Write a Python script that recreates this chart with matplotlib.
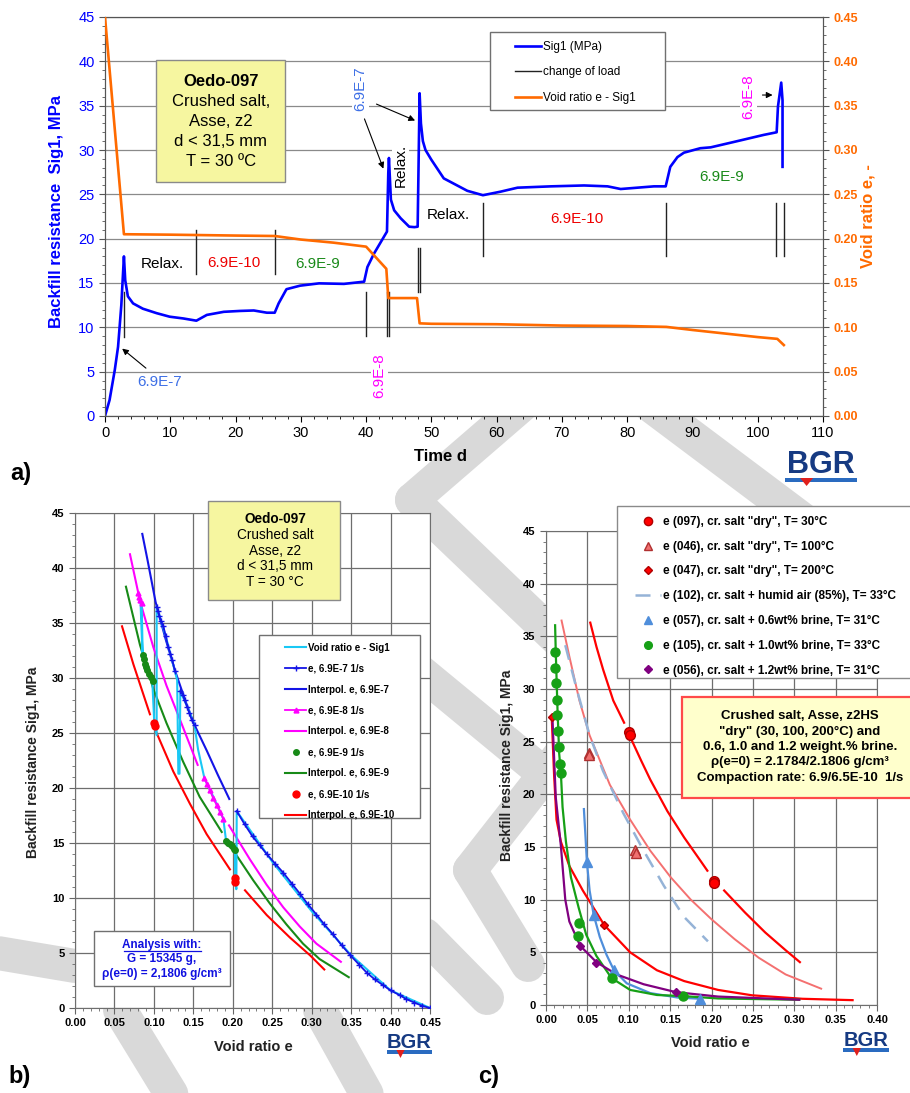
import matplotlib
matplotlib.use("Agg")
import matplotlib.pyplot as plt
from matplotlib.lines import Line2D
from matplotlib.patches import Rectangle, Polygon
from matplotlib.ticker import MultipleLocator, FormatStrFormatter

plt.rcParams['font.family'] = ['Liberation Sans', 'DejaVu Sans']

# ---------------- data: panel a (time history) ----------------
t_sig = [0, 0.7, 1.5, 2.0, 2.5, 2.9, 3.1, 3.5, 4.3, 5.8, 7.9, 9.9, 12.0, 14.0,
         15.6, 18.2, 20.7, 22.8, 24.8, 26.0, 26.6, 27.8, 29.9, 32.8, 36.6, 39.7,
         40.2, 41.2, 43.2, 43.4, 43.5, 43.8, 44.3, 45.3, 46.6, 47.4, 47.9,
         48.2, 48.4, 48.7, 49.1, 50.0, 51.9, 55.5, 57.9, 60.6, 63.2, 68.3, 73.4,
         77.0, 79.0, 84.1, 85.9, 86.6, 87.7, 88.7, 91.2, 92.8, 96.3, 100.9, 102.9,
         103.1, 103.6, 103.8, 103.8]
sig1 = [0, 1.8, 5.2, 7.8, 12.5, 18.0, 15.3, 13.5, 12.7, 12.1, 11.6, 11.2, 11.0, 10.75,
        11.4, 11.75, 11.85, 11.9, 11.65, 11.65, 12.7, 14.3, 14.7, 14.96, 14.9, 15.15,
        16.8, 18.3, 20.8, 27.4, 29.1, 24.4, 23.2, 22.3, 21.35, 21.3, 21.35,
        36.4, 33.0, 31.0, 30.0, 28.9, 26.8, 25.4, 24.9, 25.3, 25.75, 25.9, 26.0,
        25.9, 25.6, 25.9, 25.9, 28.1, 29.2, 29.7, 30.2, 30.3, 30.9, 31.7, 32.0,
        34.9, 37.6, 35.6, 28.1]

t_void = [0, 2.9, 10, 20, 26, 30, 35, 40, 43.1, 43.4, 47.8, 48.2, 50, 60, 70, 80,
          86, 90, 95, 100, 103, 104]
void_e = [0.45, 0.205, 0.2045, 0.2035, 0.203, 0.199, 0.1955, 0.191, 0.166, 0.133,
          0.133, 0.1045, 0.104, 0.1035, 0.102, 0.1015, 0.1005, 0.097, 0.093, 0.089,
          0.087, 0.080]

load_t = [2.9, 14.0, 26.0, 40.0, 43.2, 43.5, 47.9, 48.2, 57.9, 85.9, 102.8, 104.0]
load_lo = [8.9, 16.0, 16.0, 9.0, 9.0, 9.0, 14.0, 14.0, 18.0, 18.0, 18.0, 18.0]
load_hi = [14.0, 21.0, 21.0, 14.0, 14.0, 14.0, 19.0, 19.0, 24.0, 24.0, 24.0, 24.0]

# ---------------- data: panel b (void ratio vs Sig1, Oedo-097) ----------------
cyan_e = [0.45, 0.40, 0.35, 0.30, 0.25, 0.205, 0.2045, 0.203, 0.2028, 0.196, 0.1915,
          0.188, 0.176, 0.164, 0.156, 0.1515, 0.143, 0.1335, 0.1325, 0.131, 0.1295,
          0.1267, 0.115, 0.1035, 0.1035, 0.1005, 0.098, 0.092, 0.0858, 0.0845,
          0.0802, 0.083, 0.0856]
cyan_s = [0, 1.6, 4.8, 8.8, 13.3, 17.9, 10.8, 11.7, 14.4, 14.9, 15.2,
          17.2, 19.1, 20.9, 23.5, 25.7, 27.3, 28.8, 21.3, 21.3, 29.8,
          30.6, 33.8, 36.5, 24.8, 25.9, 29.7, 31.0, 32.1, 36.8,
          37.7, 37.0, 32.0]

b7_e1 = [0.45, 0.44, 0.43, 0.42, 0.412, 0.40, 0.39, 0.38, 0.37, 0.36, 0.349, 0.338,
         0.327, 0.316, 0.306, 0.295, 0.285, 0.275, 0.264, 0.254, 0.243, 0.234,
         0.225, 0.215, 0.205]
b7_s1 = [0, 0.2, 0.5, 0.8, 1.15, 1.6, 2.1, 2.6, 3.2, 3.95, 4.8, 5.7,
         6.7, 7.6, 8.5, 9.45, 10.4, 11.3, 12.3, 13.1, 14.0, 14.8,
         15.6, 16.7, 17.9]
b7_e2 = [0.1515, 0.148, 0.145, 0.142, 0.139, 0.1365, 0.1335]
b7_s2 = [25.7, 26.2, 26.8, 27.4, 28.0, 28.5, 28.8]
b7_e3 = [0.1267, 0.1234, 0.121, 0.118, 0.115, 0.112, 0.109, 0.107, 0.105, 0.1035]
b7_s3 = [30.6, 31.6, 32.2, 32.85, 33.8, 34.7, 35.2, 35.6, 36.1, 36.5]
i7_e = [0.0853, 0.092, 0.1022, 0.115, 0.1276, 0.14, 0.151, 0.167, 0.181, 0.1956]
i7_s = [43.1, 40.7, 36.9, 33.5, 30.5, 27.9, 25.8, 23.4, 21.2, 19.0]

b8_e1 = [0.164, 0.167, 0.171, 0.175, 0.1796, 0.184, 0.188]
b8_s1 = [20.9, 20.4, 19.8, 19.1, 18.45, 17.8, 17.2]
b8_e2 = [0.0802, 0.0815, 0.083, 0.0845]
b8_s2 = [37.7, 37.4, 37.1, 36.8]
i8_e1 = [0.0697, 0.0824, 0.0993, 0.116, 0.137, 0.1555]
i8_s1 = [41.25, 37.0, 32.8, 29.3, 25.5, 22.1]
i8_e2 = [0.1952, 0.2218, 0.2429, 0.264, 0.285, 0.306, 0.337]
i8_s2 = [16.6, 13.5, 11.2, 9.15, 7.4, 5.85, 4.2]

b9_e = [0.1914, 0.194, 0.1965, 0.199, 0.2015, 0.2028,
        0.0858, 0.0875, 0.0887, 0.0905, 0.0917, 0.094, 0.0962, 0.0985]
b9_s = [15.14, 15.0, 14.9, 14.7, 14.5, 14.4,
        32.1, 31.7, 31.3, 31.0, 30.7, 30.4, 30.1, 29.7]
i9_e1 = [0.0646, 0.0824, 0.0993, 0.116, 0.137, 0.158, 0.186]
i9_s1 = [38.3, 33.0, 29.0, 25.9, 22.4, 19.2, 16.0]
i9_e2 = [0.205, 0.226, 0.247, 0.268, 0.289, 0.31, 0.347]
i9_s2 = [13.85, 11.6, 9.5, 7.6, 5.85, 4.45, 2.8]

b10_e = [0.1005, 0.1012, 0.2028, 0.2028]
b10_s = [25.9, 25.6, 11.8, 11.5]
i10_e1 = [0.0596, 0.074, 0.095]
i10_s1 = [34.7, 31.25, 26.7]
i10_e2 = [0.1035, 0.1246, 0.1458, 0.1669, 0.1964]
i10_s2 = [25.0, 21.5, 18.55, 15.8, 12.6]
i10_e3 = [0.2155, 0.243, 0.2725, 0.2978, 0.316]
i10_s3 = [10.7, 8.45, 6.4, 4.8, 3.5]

# ---------------- data: panel c (comparison of tests) ----------------
p097_e = [0.1005, 0.1017, 0.203, 0.203]
p097_s = [25.9, 25.64, 11.75, 11.55]
c097_e1 = [0.0535, 0.061, 0.069, 0.0813, 0.0944]
c097_s1 = [36.3, 34.0, 31.85, 28.9, 26.8]
c097_e2 = [0.1038, 0.115, 0.126, 0.1467, 0.167, 0.1875, 0.195]
c097_s2 = [25.1, 23.2, 21.4, 18.4, 15.9, 13.6, 12.75]
c097_e3 = [0.2153, 0.2406, 0.265, 0.2896, 0.3068]
c097_s3 = [10.87, 8.77, 6.88, 5.2, 4.07]

p046_e = [0.0519, 0.0525, 0.1078, 0.1085]
p046_s = [23.96, 23.7, 14.73, 14.4]
c046_e = [0.0188, 0.0282, 0.0404, 0.0527, 0.0772, 0.1017, 0.126, 0.151, 0.175, 0.2,
          0.228, 0.257, 0.2896, 0.3325]
c046_s = [36.5, 33.1, 28.9, 25.6, 20.9, 17.6, 14.65, 12.1, 10.0, 8.14,
          6.25, 4.49, 2.9, 1.55]

p047_e = [0.0072, 0.0705]
p047_s = [27.36, 7.6]
c047_e = [0.0069, 0.0098, 0.0127, 0.018, 0.0282, 0.0445, 0.0703, 0.1017, 0.134, 0.167,
          0.208, 0.249, 0.31, 0.3705]
c047_s = [27.36, 21.8, 17.6, 15.5, 13.2, 10.87, 7.6, 5.0, 3.3, 2.27,
          1.43, 0.92, 0.59, 0.46]

c102_e = [0.0233, 0.0364, 0.0527, 0.069, 0.0935, 0.118, 0.1426, 0.167, 0.1957]
c102_s = [34.16, 30.2, 25.6, 22.2, 18.2, 14.65, 11.3, 8.35, 6.04]

p057_e = [0.0494, 0.0576, 0.0821, 0.1867]
p057_s = [13.6, 8.56, 3.3, 0.59]
c057_e = [0.0458, 0.0478, 0.0494, 0.0527, 0.0576, 0.065, 0.0731, 0.0821, 0.0976, 0.126,
          0.159, 0.1867]
c057_s = [18.6, 15.9, 13.6, 10.87, 8.56, 6.46, 4.78, 3.3, 2.06, 1.13,
          0.71, 0.59]

p105_e = [0.0109, 0.0109, 0.0121, 0.0129, 0.0137, 0.0149, 0.0157, 0.0169, 0.0177,
          0.0396, 0.0384, 0.0794, 0.166]
p105_s = [33.55, 31.97, 30.55, 29.0, 27.5, 26.05, 24.5, 22.9, 22.0,
          7.8, 6.59, 2.53, 0.85]
c105_e = [0.011, 0.0118, 0.0139, 0.0159, 0.018, 0.02, 0.0241, 0.0302, 0.0396, 0.0486,
          0.0609, 0.0792, 0.1017, 0.134, 0.165, 0.208, 0.306]
c105_s = [36.05, 33.5, 28.07, 23.9, 22.0, 18.8, 15.5, 12.1, 9.2, 6.67,
          4.66, 2.56, 1.43, 0.95, 0.85, 0.62, 0.5]

p056_e = [0.0413, 0.0609, 0.157]
p056_s = [5.62, 4.0, 1.22]
c056_e = [0.0078, 0.0118, 0.018, 0.0233, 0.0282, 0.0413, 0.0609, 0.0854, 0.118, 0.157,
          0.208, 0.306]
c056_s = [27.2, 19.7, 15.1, 10.0, 7.93, 5.62, 4.07, 2.9, 1.97, 1.22,
          0.8, 0.5]

# ---------------- figure ----------------
W, H = 910, 1093
fig = plt.figure(figsize=(9.1, 10.93), dpi=100)


def add_ax(l, t, r, b):
    a = fig.add_axes([l / W, 1 - b / H, (r - l) / W, (b - t) / H])
    a.set_facecolor('white')
    return a


def fx(x):
    return x / W


def fy(y):
    return 1 - y / H


def fig_box(l, t, r, b, fc, ec, lw=1.0):
    fig.add_artist(Rectangle((fx(l), fy(b)), (r - l) / W, (b - t) / H,
                             transform=fig.transFigure, fc=fc, ec=ec, lw=lw,
                             zorder=3, clip_on=False))


def fig_lines(lines, x, y0, dy, size, color='black', bold_first=False, bold_all=False):
    for i, s in enumerate(lines):
        w = 'bold' if (bold_all or (bold_first and i == 0)) else 'normal'
        fig.text(fx(x), fy(y0 + i * dy), s, ha='center', va='center', fontsize=size,
                 color=color, fontweight=w, zorder=6)


def logo(xc, yc, size, x0, x1, ys):
    fig.text(fx(xc), fy(yc), 'BGR', ha='center', va='center', fontsize=size,
             fontweight='heavy', color='#163A82', zorder=6)
    fig.add_artist(Rectangle((fx(x0), fy(ys + 4)), (x1 - x0) / W, 4 / H,
                             transform=fig.transFigure, fc='#2A6BC0', ec='none', zorder=6))
    xm = x0 + (x1 - x0) * 0.3
    hw = (x1 - x0) * 0.09
    fig.add_artist(Polygon([(fx(xm - hw), fy(ys)), (fx(xm + hw), fy(ys)),
                            (fx(xm), fy(ys + 8))],
                           closed=True, transform=fig.transFigure, fc='#E0201C', ec='none',
                           zorder=7))


# grey watermark bands (only visible in the margins, axes are opaque)
bands = [[(522, 405), (412, 500)], [(412, 500), (600, 680)],
         [(400, 655), (600, 820)], [(560, 755), (470, 870)],
         [(470, 870), (528, 965)], [(425, 935), (487, 998)],
         [(650, 405), (830, 540)], [(-20, 950), (75, 966)],
         [(120, 1010), (175, 1100)], [(320, 1010), (370, 1100)]]
for seg in bands:
    fig.add_artist(Line2D([fx(p[0]) for p in seg], [fy(p[1]) for p in seg],
                          transform=fig.transFigure, color='#D9D9D9', lw=34 * 0.72,
                          solid_capstyle='round', zorder=-1))

# ================= panel a =================
ax = add_ax(105, 17, 823, 416)
ax.plot(t_sig, sig1, color='#0000FF', lw=1.9, zorder=5)
for t, lo, hi in zip(load_t, load_lo, load_hi):
    ax.plot([t, t], [lo, hi], color='#222222', lw=1.0, zorder=4)
ax.set_xlim(0, 110)
ax.set_ylim(0, 45)
ax.xaxis.set_major_locator(MultipleLocator(10))
ax.xaxis.set_minor_locator(MultipleLocator(2))
ax.yaxis.set_major_locator(MultipleLocator(5))
ax.yaxis.set_minor_locator(MultipleLocator(1))
ax.yaxis.grid(True, which='major', color='#8a8a8a', lw=0.9)
ax.set_axisbelow(True)
ax.tick_params(which='both', direction='out', labelsize=10.5)
ax.tick_params(which='major', length=4)
ax.tick_params(which='minor', length=2.5)
ax.tick_params(axis='y', colors='#0000FF')
ax.tick_params(axis='y', which='both', color='#555555')
for s in ax.spines.values():
    s.set_color('#555555')

axe = ax.twinx()
axe.plot(t_void, void_e, color='#FF6A00', lw=1.9, zorder=4)
axe.set_ylim(0, 0.45)
axe.yaxis.set_major_locator(MultipleLocator(0.05))
axe.yaxis.set_minor_locator(MultipleLocator(0.01))
axe.yaxis.set_major_formatter(FormatStrFormatter('%.2f'))
axe.tick_params(which='both', direction='out', colors='#555555', labelcolor='#FF6A00',
                labelsize=9)
axe.tick_params(which='major', length=4)
axe.tick_params(which='minor', length=2.5)
for lab in axe.get_yticklabels():
    lab.set_fontweight('bold')
for s in axe.spines.values():
    s.set_color('#555555')

c7 = '#3D6FE6'
arrow = dict(arrowstyle='-|>', color='black', lw=0.8, mutation_scale=9)
axe.annotate('', xy=(2.3, 7.8 / 100), xytext=(6.6, 5.2 / 100), arrowprops=arrow)
axe.annotate('', xy=(42.8, 27.6 / 100), xytext=(39.6, 33.8 / 100), arrowprops=arrow)
axe.annotate('', xy=(47.9, 33.2 / 100), xytext=(41.2, 35.3 / 100), arrowprops=arrow)
axe.annotate('', xy=(102.7, 36.2 / 100), xytext=(100.3, 36.2 / 100), arrowprops=arrow)

wb = dict(fc='white', ec='none', pad=1.0)
ax.text(8.4, 3.8, '6.9E-7', color=c7, fontsize=11, ha='center', va='center')
ax.text(39.1, 36.9, '6.9E-7', color=c7, fontsize=11, ha='center', va='center',
        rotation=90, bbox=wb)
ax.text(8.8, 17.1, 'Relax.', fontsize=11, ha='center', va='center')
ax.text(19.7, 17.2, '6.9E-10', color='#EE0000', fontsize=11, ha='center', va='center')
ax.text(32.5, 17.1, '6.9E-9', color='#1A8A1A', fontsize=11, ha='center', va='center')
ax.text(45.3, 28.3, 'Relax.', fontsize=11, ha='center', va='center', rotation=90, bbox=wb)
ax.text(42.0, 4.6, '6.9E-8', color='#FF00FF', fontsize=11, ha='center', va='center',
        rotation=90, bbox=wb)
ax.text(52.6, 22.7, 'Relax.', fontsize=11, ha='center', va='center')
ax.text(72.3, 22.2, '6.9E-10', color='#EE0000', fontsize=11, ha='center', va='center')
ax.text(94.5, 26.9, '6.9E-9', color='#1A8A1A', fontsize=11, ha='center', va='center')
ax.text(98.6, 36.0, '6.9E-8', color='#FF00FF', fontsize=11, ha='center', va='center',
        rotation=90, bbox=wb)

fig_box(156, 60, 285, 182, '#F6F6A0', '#8a8a8a')
fig_lines(['Oedo-097', 'Crushed salt,', 'Asse, z2', 'd < 31,5 mm', 'T = 30 ºC'],
          221, 81, 20, 12, bold_first=True)

fig_box(490, 32, 665, 110, 'white', '#707070')
h_a = [Line2D([], [], color='#0000FF', lw=1.9),
       Line2D([], [], color='#222222', lw=1.0),
       Line2D([], [], color='#FF6A00', lw=1.9)]
fig.legend(h_a, ['Sig1 (MPa)', 'change of load', 'Void ratio e - Sig1'],
           loc='upper left', bbox_to_anchor=(fx(509), fy(35)), frameon=False,
           fontsize=8.5, handlelength=2.2, handletextpad=0.2, labelspacing=1.15,
           borderpad=0.0)

fig.text(fx(57), fy(212), 'Backfill resistance  Sig1, MPa', rotation=90, ha='center',
         va='center', fontsize=12, fontweight='bold', color='#0000FF')
fig.text(fx(868), fy(216), 'Void ratio e, -', rotation=90, ha='center', va='center',
         fontsize=12, fontweight='bold', color='#FF6A00')
fig.text(fx(440), fy(457), 'Time d', ha='center', va='center', fontsize=12,
         fontweight='bold')
fig.text(fx(10), fy(473), 'a)', ha='left', va='center', fontsize=17, fontweight='bold')
logo(821, 465, 22, 785, 857, 478)


def style_small(a, xmax, xstep):
    a.set_xlim(0, xmax)
    a.set_ylim(0, 45)
    a.xaxis.set_major_locator(MultipleLocator(xstep))
    a.xaxis.set_minor_locator(MultipleLocator(0.01))
    a.yaxis.set_major_locator(MultipleLocator(5))
    a.yaxis.set_minor_locator(MultipleLocator(1))
    a.xaxis.set_major_formatter(FormatStrFormatter('%.2f'))
    a.grid(True, which='major', color='#6e6e6e', lw=0.9)
    a.set_axisbelow(True)
    a.tick_params(which='both', direction='out', labelsize=8, color='#666666')
    a.tick_params(which='major', length=4)
    a.tick_params(which='minor', length=2.5)
    for lab in a.get_xticklabels() + a.get_yticklabels():
        lab.set_fontweight('bold')
    for s in a.spines.values():
        s.set_color('#6e6e6e')


# ================= panel b =================
bx = add_ax(75, 513, 430, 1008)
cB7, cB8, cB9, cB10, cCy = '#1414E6', '#FF00FF', '#178A17', '#FF0000', '#19C8F5'
l_i7, = bx.plot(i7_e, i7_s, color=cB7, lw=1.5, zorder=3)
l_i8, = bx.plot(i8_e1, i8_s1, color=cB8, lw=1.5, zorder=3)
bx.plot(i8_e2, i8_s2, color=cB8, lw=1.5, zorder=3)
l_i9, = bx.plot(i9_e1, i9_s1, color=cB9, lw=1.5, zorder=3)
bx.plot(i9_e2, i9_s2, color=cB9, lw=1.5, zorder=3)
l_i10, = bx.plot(i10_e1, i10_s1, color=cB10, lw=1.5, zorder=3)
bx.plot(i10_e2, i10_s2, color=cB10, lw=1.5, zorder=3)
bx.plot(i10_e3, i10_s3, color=cB10, lw=1.5, zorder=3)
l_cy, = bx.plot(cyan_e, cyan_s, color=cCy, lw=1.5, zorder=4)
l_b7, = bx.plot(b7_e1, b7_s1, color=cB7, lw=1.3, marker='+', ms=4, mew=1, zorder=5)
bx.plot(b7_e2, b7_s2, color=cB7, lw=1.3, marker='+', ms=4, mew=1, zorder=5)
bx.plot(b7_e3, b7_s3, color=cB7, lw=1.3, marker='+', ms=4, mew=1, zorder=5)
l_b8, = bx.plot(b8_e1, b8_s1, color=cB8, lw=1.3, marker='^', ms=3.5, zorder=5)
bx.plot(b8_e2, b8_s2, color=cB8, lw=1.3, marker='^', ms=3.5, zorder=5)
l_b9, = bx.plot(b9_e, b9_s, ls='none', color=cB9, marker='o', ms=4, zorder=6)
l_b10, = bx.plot(b10_e, b10_s, ls='none', color=cB10, marker='o', ms=5, zorder=6)
style_small(bx, 0.45, 0.05)

fig_box(208, 501, 340, 600, '#F6F6A0', '#8a8a8a')
fig_lines(['Oedo-097', 'Crushed salt', 'Asse, z2', 'd < 31,5 mm', 'T = 30 °C'],
          275, 519, 15.8, 9.8, bold_first=True)

fig_box(259, 635, 420, 818, 'white', '#707070')
fig.legend([l_cy, l_b7, l_i7, l_b8, l_i8, l_b9, l_i9, l_b10, l_i10],
           ['Void ratio e - Sig1', 'e, 6.9E-7 1/s', 'Interpol. e, 6.9E-7',
            'e, 6.9E-8 1/s', 'Interpol. e, 6.9E-8', 'e, 6.9E-9 1/s',
            'Interpol. e, 6.9E-9', 'e, 6.9E-10 1/s', 'Interpol. e, 6.9E-10'],
           loc='upper left', bbox_to_anchor=(fx(280), fy(638)), frameon=False,
           prop={'size': 7, 'weight': 'bold'}, handlelength=2.2, handletextpad=0.15,
           labelspacing=1.12, borderpad=0.0)

fig_box(94, 931, 230, 986, 'white', '#707070')
fig.text(fx(162), fy(945), 'Analysis with:', ha='center', va='center', fontsize=8.5,
         fontweight='bold', color='#1010E0', zorder=6)
fig.add_artist(Line2D([fx(124), fx(201)], [fy(951), fy(951)], transform=fig.transFigure,
                      color='#1010E0', lw=0.9, zorder=6))
fig_lines(['G = 15345 g,', 'ρ(e=0) = 2,1806 g/cm³'], 162, 959, 14.5, 8.5,
          color='#1010E0', bold_all=True)

fig.text(fx(33), fy(762), 'Backfill resistance Sig1, MPa', rotation=90, ha='center',
         va='center', fontsize=10, fontweight='bold', color='#222222')
fig.text(fx(253), fy(1047), 'Void ratio e', ha='center', va='center', fontsize=10.5,
         fontweight='bold', color='#222222')
fig.text(fx(8), fy(1077), 'b)', ha='left', va='center', fontsize=17, fontweight='bold')
logo(409, 1042, 14.5, 387, 432, 1050)

# ================= panel c =================
cx = add_ax(546, 531, 877, 1005)
cx.plot(c097_e1, c097_s1, color='#FF0000', lw=1.6, zorder=3)
cx.plot(c097_e2, c097_s2, color='#FF0000', lw=1.6, zorder=3)
cx.plot(c097_e3, c097_s3, color='#FF0000', lw=1.6, zorder=3)
cx.plot(c046_e, c046_s, color='#F47070', lw=1.4, zorder=3)
cx.plot(c047_e, c047_s, color='#FF0000', lw=1.6, zorder=3)
l_102, = cx.plot(c102_e, c102_s, color='#95B3D7', lw=1.8, ls=(0, (6, 4)), zorder=3)
cx.plot(c057_e, c057_s, color='#4F8EDB', lw=1.6, zorder=3)
cx.plot(c105_e, c105_s, color='#16A016', lw=1.6, zorder=3)
cx.plot(c056_e, c056_s, color='#800080', lw=1.6, zorder=3)
m_097, = cx.plot(p097_e, p097_s, ls='none', marker='o', ms=7, mfc='#FF0000',
                 mec='#B00000', zorder=5)
m_046, = cx.plot(p046_e, p046_s, ls='none', marker='^', ms=6.5, mfc='#F07070',
                 mec='#B03030', zorder=5)
m_047, = cx.plot(p047_e, p047_s, ls='none', marker='D', ms=4.5, mfc='#FF0000',
                 mec='#B00000', zorder=5)
m_057, = cx.plot(p057_e, p057_s, ls='none', marker='^', ms=6.5, color='#4F8EDB', zorder=5)
m_105, = cx.plot(p105_e, p105_s, ls='none', marker='o', ms=6.5, color='#16A016', zorder=5)
m_056, = cx.plot(p056_e, p056_s, ls='none', marker='D', ms=4.5, color='#800080', zorder=5)
style_small(cx, 0.40, 0.05)

fig_box(617, 506, 918, 678, 'white', '#8a8a8a')
fig.legend([m_097, m_046, m_047, l_102, m_057, m_105, m_056],
           ['e (097), cr. salt "dry", T= 30°C', 'e (046), cr. salt "dry", T= 100°C',
            'e (047), cr. salt "dry", T= 200°C',
            'e (102), cr. salt + humid air (85%), T= 33°C',
            'e (057), cr. salt + 0.6wt% brine, T= 31°C',
            'e (105), cr. salt + 1.0wt% brine, T= 33°C',
            'e (056), cr. salt + 1.2wt% brine, T= 31°C'],
           loc='upper left', bbox_to_anchor=(fx(629), fy(510)), frameon=False,
           prop={'size': 8.5, 'weight': 'bold'}, handlelength=2.2, handletextpad=0.15,
           labelspacing=1.08, borderpad=0.0, markerscale=0.85)

fig_box(682, 697, 918, 798, '#FFFFCC', '#FF4A4A', lw=1.6)
fig_lines(['Crushed salt, Asse, z2HS', '"dry" (30, 100, 200°C) and',
           '0.6, 1.0 and 1.2 weight.% brine.', 'ρ(e=0) = 2.1784/2.1806 g/cm³',
           'Compaction rate: 6.9/6.5E-10  1/s'],
          800, 716, 15.5, 9.5, bold_all=True)

fig.text(fx(507), fy(765), 'Backfill resistance Sig1, MPa', rotation=90, ha='center',
         va='center', fontsize=10, fontweight='bold', color='#222222')
fig.text(fx(710), fy(1043), 'Void ratio e', ha='center', va='center', fontsize=10.5,
         fontweight='bold', color='#222222')
fig.text(fx(478), fy(1077), 'c)', ha='left', va='center', fontsize=17, fontweight='bold')
logo(866, 1040, 14.5, 843, 889, 1048)

fig.savefig('out.png', dpi=100)
